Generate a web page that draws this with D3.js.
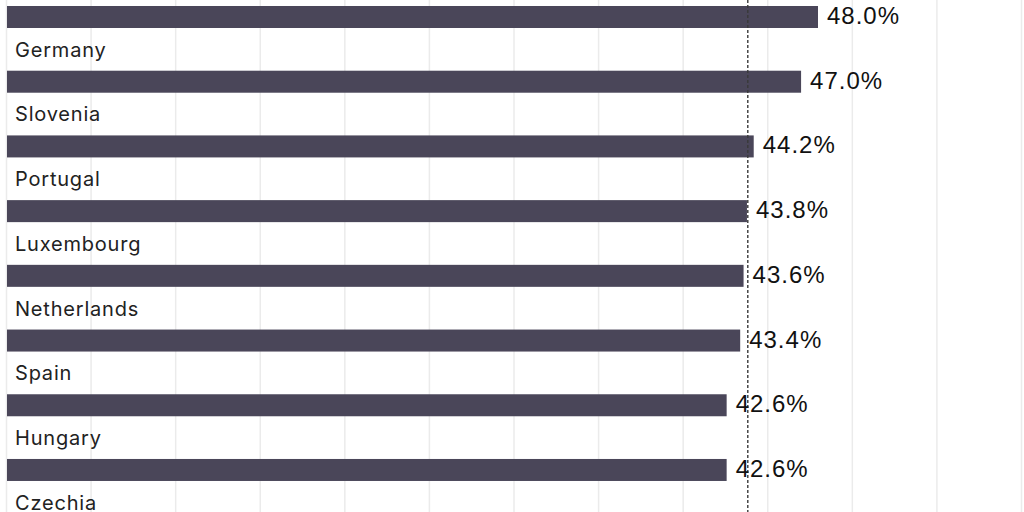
<!DOCTYPE html>
<html>
<head>
<meta charset="utf-8">
<script src="https://cdn.jsdelivr.net/npm/d3@7"></script>
<style>
  html, body { margin: 0; padding: 0; background: #fff; }
  svg { display: block; }
</style>
</head>
<body>
<svg id="chart" width="1024" height="512"></svg>
<script>
// Data (the first row's name is cropped out of the reference view; Czechia's bar lies below it)
const countries = ["(cropped)", "Germany", "Slovenia", "Portugal", "Luxembourg", "Netherlands", "Spain", "Hungary", "Czechia"];
const values = [48.0, 47.0, 44.2, 43.8, 43.6, 43.4, 42.6, 42.6, 41.6];
const valueLabels = ["48.0%", "47.0%", "44.2%", "43.8%", "43.6%", "43.4%", "42.6%", "42.6%", "41.6%"];
const gridTicks = [0, 5, 10, 15, 20, 25, 30, 35, 40, 45, 50, 55, 60];
const referenceValue = [43.85];

const W = 1024, H = 512;
const svg = d3.select("#chart");

const x = d3.scaleLinear().domain([0, 60]).range([6, 1021]);

const step = 64.71, pad = 1 - 22 / step, top0 = 6;
const y = d3.scaleBand()
  .domain(countries)
  .range([top0, top0 + step * (countries.length - pad)])
  .paddingInner(pad)
  .paddingOuter(0);

// gridlines
const grid = svg.append("g").attr("class", "grid")
  .call(d3.axisTop(x).tickValues(gridTicks).tickSize(-H).tickFormat(""));
grid.select(".domain").remove();
grid.selectAll(".tick line").attr("stroke", "#ebebeb").attr("stroke-width", 1.5);

const rows = countries.map((c, i) => ({ c, v: values[i], l: valueLabels[i] }));

// bars
svg.append("g").selectAll("rect").data(rows).join("rect")
  .attr("x", x(0) + 1)
  .attr("y", d => y(d.c))
  .attr("width", d => x(d.v) - x(0) - 1)
  .attr("height", y.bandwidth())
  .attr("fill", "#4a4659");

// reference dashed line
svg.append("g").selectAll("line").data(referenceValue).join("line")
  .attr("x1", d => x(d)).attr("x2", d => x(d))
  .attr("y1", 0).attr("y2", H)
  .attr("stroke", "#3a3a3a")
  .attr("stroke-width", 1.4)
  .attr("stroke-dasharray", "3,2");

// country labels (only those inside the visible frame)
svg.append("g").selectAll("text").data(rows.filter(d => y(d.c) - 14 > 0)).join("text")
  .attr("x", 15)
  .attr("y", d => y(d.c) - 14)
  .attr("font-family", "Inter, 'Noto Sans', sans-serif")
  .attr("font-size", 20)
  .attr("letter-spacing", 0.8)
  .attr("fill", "#222")
  .text(d => d.c);

// value labels (only for bars inside the frame)
svg.append("g").selectAll("text").data(rows.filter(d => y(d.c) < H)).join("text")
  .attr("x", d => x(d.v) + 9)
  .attr("y", d => y(d.c) + 18)
  .attr("font-family", "'Liberation Sans', Arial, sans-serif")
  .attr("font-size", 24)
  .attr("letter-spacing", 1)
  .attr("fill", "#111")
  .text(d => d.l);
</script>
</body>
</html>
